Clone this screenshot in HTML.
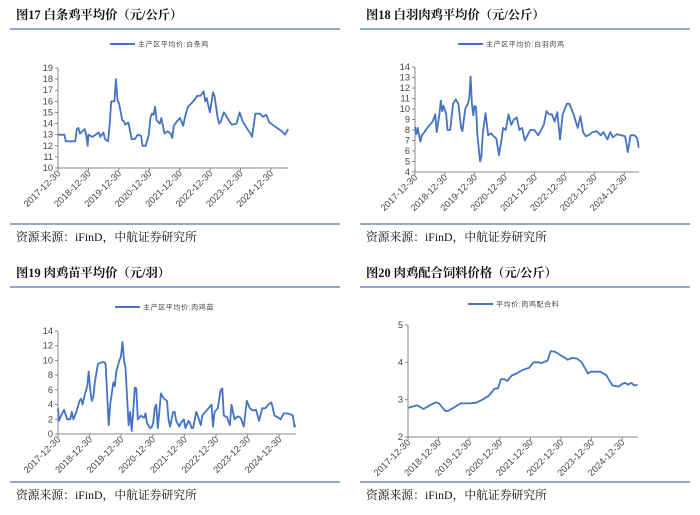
<!DOCTYPE html>
<html><head><meta charset="utf-8"><style>
body{margin:0;background:#fff;width:700px;height:515px;overflow:hidden}
svg{display:block}
.t{font-family:"Liberation Serif","Noto Serif CJK SC",serif;font-weight:bold;font-size:12.3px;fill:#111}
.s{font-family:"Liberation Serif","Noto Serif CJK SC",serif;font-size:11.8px;fill:#111}
.k{font-family:"Liberation Sans",sans-serif;font-size:9.3px;fill:#444}
.lg{font-family:"Liberation Sans","Noto Sans CJK SC",sans-serif;font-size:7px;fill:#444;letter-spacing:0.6px}
</style></head><body>
<svg id="c" width="700" height="515" xmlns="http://www.w3.org/2000/svg"></svg>
<script>
const svg=document.getElementById('c');let h='';
function P(a){const r=[];for(let i=0;i<a.length;i+=2)r.push([a[i],a[i+1]]);return r;}
const charts=[
{ox:0,oy:0,title:'图17  白条鸡平均价（元/公斤）',leg:'主产区平均价:白条鸡',lx:110,ly:44,x0:58,sp:30.4,xe:288,yt:68,yb:168,mn:10,mx:19,st:1,end:7.57,
d:P([0,13,0.2,13,0.25,12.4,0.55,12.4,0.6,13.5,0.65,13.6,0.7,13.1,0.85,13.5,0.9,13,0.95,12,0.97,13,1.1,12.8,1.2,13,1.3,13.2,1.35,12.8,1.45,13.2,1.5,12.6,1.6,12.4,1.65,14,1.7,16,1.8,16,1.85,18,1.9,16.1,1.95,15.8,2.05,14.3,2.1,14.2,2.15,13.9,2.25,14.1,2.35,12.6,2.45,12.6,2.55,13,2.65,12.9,2.7,12,2.8,12,2.9,13,2.95,14.5,3.0,14.9,3.05,14.8,3.1,15.5,3.15,14.3,3.25,14,3.3,14.5,3.35,13.8,3.4,13.1,3.5,13.3,3.6,13.1,3.65,12.7,3.7,13.8,3.8,14.2,3.9,14.5,4.0,13.8,4.05,14.5,4.15,15.5,4.25,15.8,4.35,16.1,4.45,16.5,4.55,16.5,4.65,16.9,4.7,16,4.75,16.3,4.85,15,4.95,16.8,5.0,16.5,5.1,14.5,5.15,14,5.2,14.2,5.3,15,5.35,14.8,5.45,14.3,5.55,13.9,5.7,14,5.8,15,5.9,14.2,6.05,13.5,6.15,13.1,6.2,12.8,6.3,14.9,6.45,14.9,6.55,14.6,6.65,14.8,6.75,14.1,6.85,13.9,6.95,13.7,7.05,13.5,7.15,13.3,7.25,13,7.35,13.5])},
{ox:350,oy:0,title:'图18  白羽肉鸡平均价（元/公斤）',leg:'主产区平均价:白羽肉鸡',lx:458,ly:44,x0:415,sp:29.9,xe:639,yt:67,yb:172,mn:4,mx:14,st:1,end:7.48,
d:P([0,8.3,0.05,7.6,0.1,8.2,0.15,7.5,0.2,6.9,0.25,7.5,0.35,7.8,0.45,8.2,0.55,8.5,0.65,8.8,0.75,9.5,0.8,7.8,0.9,9.5,0.95,10.8,1.0,9.8,1.05,10.3,1.15,9.5,1.2,8,1.3,8,1.4,10.5,1.5,10.9,1.6,10.5,1.7,8.2,1.75,7.9,1.85,10,1.95,10.5,2.0,11,2.05,13.1,2.1,10.5,2.15,9.4,2.2,10.3,2.25,10.2,2.3,7.5,2.4,5,2.45,5.5,2.5,7.7,2.6,9.6,2.7,7.5,2.8,7.7,2.9,7.4,3.0,7.2,3.1,5.6,3.2,7.2,3.25,8.2,3.35,8,3.45,9.5,3.55,8.5,3.65,9,3.75,9.2,3.85,8,3.95,8.2,4.05,7,4.15,7.5,4.25,8,4.4,8,4.55,7.5,4.65,8,4.75,8.5,4.85,9.8,4.95,9.5,5.05,9.5,5.15,8.8,5.25,9.7,5.35,7.1,5.45,9.5,5.6,10.5,5.7,10.5,5.85,9.5,6.0,8.2,6.1,9.3,6.2,7.8,6.3,7.4,6.4,7.5,6.55,7.8,6.7,7.9,6.85,7.5,6.95,7.8,7.1,7.1,7.2,7.8,7.3,7.3,7.45,7.6,7.6,7.5,7.75,7.4,7.85,5.9,7.95,7.5,8.1,7.5,8.2,7.2,8.25,6.3])},
{ox:0,oy:258,title:'图19  肉鸡苗平均价（元/羽）',leg:'主产区平均价:肉鸡苗',lx:115,ly:307,x0:58,sp:31.6,xe:296,yt:331,yb:434,mn:0,mx:14,st:2,end:7.53,
d:P([0,3.5,0.03,1.8,0.1,2.5,0.2,3.3,0.3,2,0.4,2,0.45,3,0.5,2,0.6,3,0.7,4.5,0.75,4.8,0.8,4,0.85,5,0.95,6.5,1.0,8.5,1.05,6,1.1,4.5,1.15,5,1.2,7,1.3,9.5,1.4,9.7,1.5,9.8,1.55,9.5,1.65,1.2,1.7,4,1.8,7,1.85,6.5,1.9,8.5,2.0,10,2.05,10.5,2.1,12.5,2.15,10,2.2,9,2.25,5,2.3,1.2,2.35,3,2.4,0.4,2.45,3,2.5,6.3,2.55,6.2,2.6,2,2.7,2.5,2.8,2.2,2.85,2.8,2.9,1.5,3.0,0.8,3.05,0.9,3.1,1.5,3.15,3.5,3.2,4,3.25,0.8,3.3,3,3.35,5.5,3.45,4.8,3.55,4.5,3.6,2,3.65,1,3.75,3,3.8,3,3.85,1.8,3.95,1,4.0,1.5,4.1,2,4.15,0.8,4.25,1.8,4.3,1.5,4.35,0.8,4.4,0.8,4.5,3,4.55,2.5,4.65,1.2,4.7,2.5,4.8,3,4.9,3.5,5.0,4,5.05,1,5.1,3,5.2,3.5,5.3,6,5.35,6.2,5.4,2.5,5.5,2.3,5.6,1.2,5.65,4,5.75,2,5.85,2.4,5.95,2.2,6.05,1,6.15,4.5,6.25,3.5,6.35,3.2,6.45,3.3,6.55,1.8,6.65,3.5,6.75,3.5,6.85,4,6.95,4.3,7.05,2.5,7.15,2.3,7.25,2,7.35,2.8,7.45,2.8,7.55,2.7,7.65,2.5,7.7,1,7.75,1.2])},
{ox:350,oy:258,title:'图20  肉鸡配合饲料价格（元/公斤）',leg:'平均价:肉鸡配合料',lx:468,ly:304,x0:408,sp:30.6,xe:638,yt:325,yb:437,mn:2,mx:5,st:1,end:7.5,
d:P([0,2.78,0.3,2.85,0.5,2.75,0.7,2.85,0.9,2.93,1.0,2.9,1.2,2.7,1.3,2.7,1.5,2.8,1.7,2.9,2.0,2.9,2.2,2.92,2.4,3.0,2.6,3.1,2.8,3.3,2.9,3.3,3.0,3.55,3.1,3.55,3.2,3.5,3.35,3.65,3.5,3.7,3.7,3.8,3.9,3.85,4.05,4,4.2,4,4.3,3.98,4.5,4.05,4.6,4.3,4.75,4.28,4.9,4.2,5.0,4.15,5.15,4.07,5.3,4.12,5.45,4.1,5.6,4,5.7,3.85,5.8,3.7,5.9,3.75,6.2,3.75,6.4,3.65,6.5,3.5,6.6,3.38,6.8,3.35,6.9,3.42,7.0,3.45,7.1,3.4,7.2,3.45,7.3,3.38,7.4,3.4])}
];
charts.forEach(c=>{
 const lx0=c.ox+10,lx1=c.ox+340;
 h+=`<text class="t" x="${c.ox+16}" y="${c.oy+19}">${c.title}</text>`;
 h+=`<line x1="${lx0}" y1="${c.oy+29}" x2="${lx1}" y2="${c.oy+29}" stroke="#4f74b3" stroke-width="1.3"/>`;
 h+=`<line x1="${lx0}" y1="${c.oy+224}" x2="${lx1}" y2="${c.oy+224}" stroke="#4f74b3" stroke-width="1.3"/>`;
 h+=`<text class="s" x="${c.ox+16}" y="${c.oy+241}">资源来源：iFinD，中航证券研究所</text>`;
 h+=`<line x1="${c.lx}" y1="${c.ly}" x2="${c.lx+25}" y2="${c.ly}" stroke="#4472c4" stroke-width="2"/>`;
 h+=`<text class="lg" x="${c.lx+28}" y="${c.ly+2.5}">${c.leg}</text>`;
 const Y=v=>c.yb-(v-c.mn)/(c.mx-c.mn)*(c.yb-c.yt);
 h+=`<line x1="${c.x0}" y1="${c.yt}" x2="${c.x0}" y2="${c.yb}" stroke="#888" stroke-width="1"/>`;
 h+=`<line x1="${c.x0}" y1="${c.yb}" x2="${c.xe}" y2="${c.yb}" stroke="#888" stroke-width="1"/>`;
 for(let v=c.mn;v<=c.mx+1e-9;v+=c.st){const y=Y(v);h+=`<line x1="${c.x0-3}" y1="${y}" x2="${c.x0}" y2="${y}" stroke="#888"/><text class="k" x="${c.x0-5}" y="${y+3}" text-anchor="end">${v}</text>`;}
 for(let k=0;k<8;k++){const x=c.x0+k*c.sp;h+=`<line x1="${x}" y1="${c.yb}" x2="${x}" y2="${c.yb+3}" stroke="#888"/><text class="k" transform="translate(${x+3},${c.yb+6}) rotate(-45)" text-anchor="end">${2017+k}-12-30</text>`;}
 const last=c.d[c.d.length-1][0],f=c.end/last;
 const pts=c.d.map(p=>`${(c.x0+p[0]*f*c.sp).toFixed(1)},${Y(p[1]).toFixed(1)}`).join(' ');
 h+=`<polyline points="${pts}" fill="none" stroke="#4472c4" stroke-width="1.8" stroke-linejoin="round"/>`;
});
svg.innerHTML=h;
</script>
</body></html>
